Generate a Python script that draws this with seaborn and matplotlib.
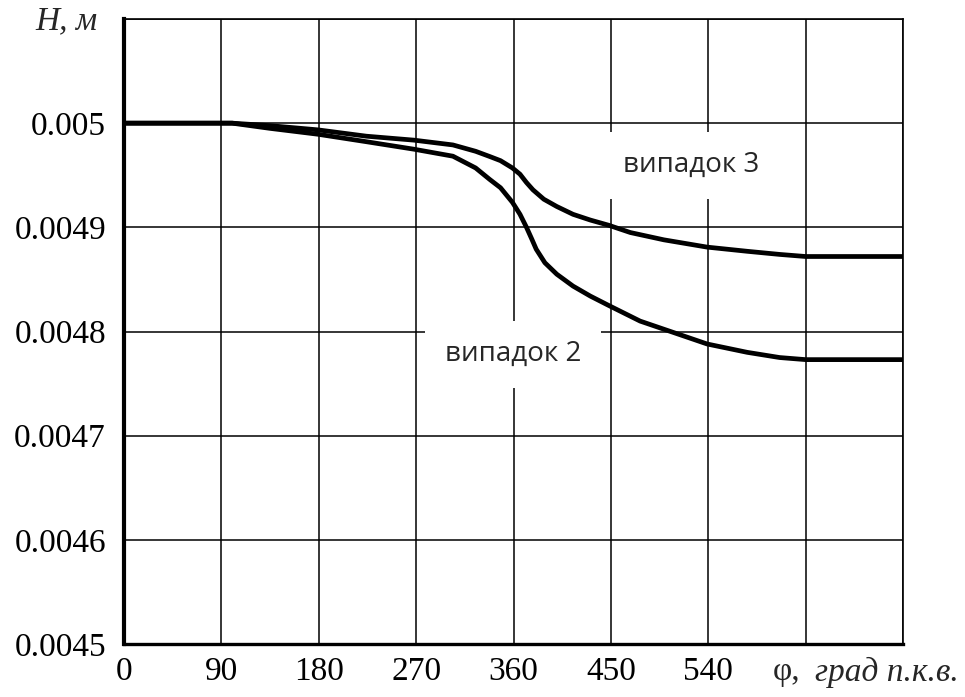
import matplotlib
matplotlib.use("Agg")
import matplotlib.pyplot as plt
import seaborn as sns
import pandas as pd

# ---- data ----
phi_case3 = [0, 100, 135, 179, 224, 268, 304, 325, 338, 348, 359, 366, 372,
             378, 388, 400, 415, 431, 448, 468, 499, 539, 576, 606, 630, 720]
h_case3 = [0.005, 0.005, 0.0049976, 0.0049936, 0.0049875, 0.0049837,
           0.0049791, 0.004973, 0.004968, 0.004964, 0.004957, 0.004951,
           0.004943, 0.004936, 0.004927, 0.004920, 0.0049125, 0.004907,
           0.004902, 0.004895, 0.004888, 0.004881, 0.004877, 0.004874,
           0.004872, 0.004872]
phi_case2 = [0, 100, 135, 179, 224, 268, 304, 325, 338, 348, 359, 366, 372,
             377, 381, 389, 400, 415, 431, 448, 477, 508, 539, 576, 606, 630,
             720]
h_case2 = [0.005, 0.005, 0.004995, 0.0049894, 0.0049822, 0.004975,
           0.0049683, 0.004957, 0.004946, 0.004938, 0.004924, 0.0049125,
           0.0049, 0.0048885, 0.004879, 0.004866, 0.004855, 0.0048436,
           0.004834, 0.004825, 0.004810, 0.004799, 0.004788, 0.004780,
           0.004775, 0.004773, 0.004773]
x_ticks = [0, 90, 180, 270, 360, 450, 540, 630, 720]
x_ticklabels = ["0", "90", "180", "270", "360", "450", "540", "", ""]
y_ticks = [0.0045, 0.0046, 0.0047, 0.0048, 0.0049, 0.005, 0.0051]
y_ticklabels = ["0.0045", "0.0046", "0.0047", "0.0048", "0.0049", "0.005", ""]
label3 = "випадок 3"
label2 = "випадок 2"

df = pd.DataFrame({"phi": phi_case3 + phi_case2,
                   "H": h_case3 + h_case2,
                   "case": [label3] * len(phi_case3) + [label2] * len(phi_case2)})

sns.set_style("white")
plt.rcParams["font.family"] = ["Liberation Serif", "DejaVu Serif"]

fig = plt.figure(figsize=(9.65, 6.97), dpi=100)
ax = fig.add_axes([124 / 965, 1 - 644 / 697, (903 - 124) / 965, (644 - 19) / 697])

sns.lineplot(data=df, x="phi", y="H", units="case", estimator=None,
             sort=False, color="black", linewidth=3.4, ax=ax, legend=False,
             solid_capstyle="round", solid_joinstyle="round", zorder=5)

ax.set_xlim(0, 720)
ax.set_ylim(0.0045, 0.0051)
ax.set_xticks(x_ticks)
ax.set_xticklabels(x_ticklabels)
ax.set_yticks(y_ticks)
ax.set_yticklabels(y_ticklabels)
ax.set_xlabel("")
ax.set_ylabel("")
ax.tick_params(axis="both", labelsize=24, colors="black")
ax.tick_params(axis="x", length=0, pad=9)
ax.tick_params(axis="y", length=3, width=1.2, pad=10, direction="out")
ax.grid(True, color="black", linewidth=1.1)
ax.set_axisbelow(True)

for s in ["top", "right"]:
    ax.spines[s].set_linewidth(1.2)
    ax.spines[s].set_color("black")
ax.spines["left"].set_linewidth(3.0)
ax.spines["bottom"].set_linewidth(2.4)
ax.spines["left"].set_color("black")
ax.spines["bottom"].set_color("black")

sans = ["Open Sans", "DejaVu Sans"]
ax.text(524, 0.0049529, label3, family=sans, fontsize=20, ha="center",
        va="baseline", zorder=4,
        bbox=dict(boxstyle="square,pad=0.7", fc="white", ec="none"))
ax.text(359.6, 0.0047714, label2, family=sans, fontsize=20, ha="center",
        va="baseline", zorder=4,
        bbox=dict(boxstyle="square,pad=0.7", fc="white", ec="none"))

fig.text(66 / 965, 1 - 21 / 697, "H, м", fontsize=24, style="italic",
         ha="center", va="center")
fig.text(773 / 965, 1 - 672 / 697, "φ,", fontsize=24, ha="left", va="center")
fig.text(815 / 965, 1 - 672 / 697, "град п.к.в.", fontsize=24,
         style="italic", ha="left", va="center")

fig.savefig("out.png", dpi=100, facecolor="white")
